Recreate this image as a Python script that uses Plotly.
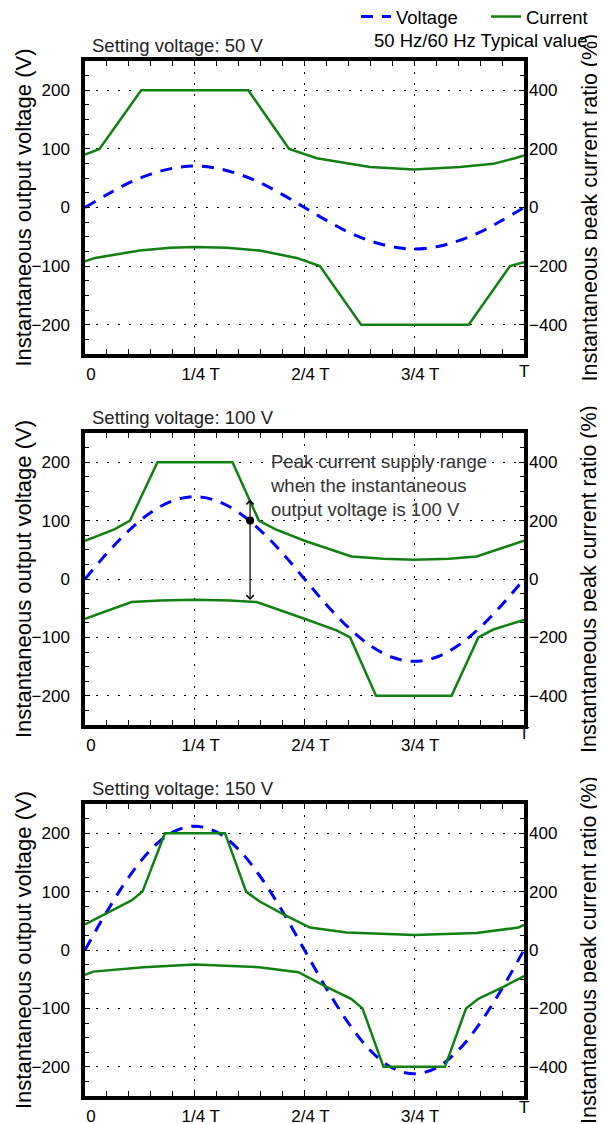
import plotly.graph_objects as go

# time axis, fraction of period T
t_volt = [i / 20 for i in range(21)]

# instantaneous output voltage (V)
volt_50 = [0, 22, 42, 57, 67, 71, 67, 57, 42, 22, 0, -22, -42, -57, -67, -71, -67, -57, -42, -22, 0]
volt_100 = [0, 44, 83, 114, 134, 141, 134, 114, 83, 44, 0, -44, -83, -114, -134, -141, -134, -114, -83, -44, 0]
volt_150 = [0, 66, 125, 172, 202, 212, 202, 172, 125, 66, 0, -66, -125, -172, -202, -212, -202, -172, -125, -66, 0]

# peak current ratio (%) - upper and lower envelopes
t_up_50 = [0, 0.033, 0.128, 0.372, 0.465, 0.528, 0.649, 0.75, 0.854, 0.93, 0.979, 1.0]
cur_up_50 = [181, 200, 400, 400, 200, 168, 138, 130, 138, 149, 168, 178]
t_lo_50 = [0, 0.023, 0.125, 0.194, 0.25, 0.323, 0.398, 0.482, 0.535, 0.629, 0.874, 0.968, 1.0]
cur_lo_50 = [-184, -172, -147, -137, -135, -137, -147, -172, -200, -400, -400, -200, -187]

t_up_100 = [0, 0.068, 0.1025, 0.165, 0.336, 0.396, 0.433, 0.5, 0.607, 0.679, 0.75, 0.829, 0.892, 1.0]
cur_up_100 = [131, 171, 200, 400, 400, 200, 171, 131, 77, 69, 66, 69, 77, 131]
t_lo_100 = [0, 0.106, 0.171, 0.25, 0.33, 0.391, 0.5, 0.573, 0.604, 0.663, 0.835, 0.896, 0.93, 1.0]
cur_lo_100 = [-136, -79, -74, -71, -74, -79, -136, -176, -200, -400, -400, -200, -173, -140]

t_up_150 = [0, 0.106, 0.131, 0.182, 0.319, 0.367, 0.397, 0.452, 0.5125, 0.596, 0.75, 0.892, 0.987, 1.0]
cur_up_150 = [88, 170, 200, 400, 400, 200, 167, 122, 77, 60, 51, 58, 77, 86]
t_lo_150 = [0, 0.019, 0.133, 0.25, 0.397, 0.486, 0.55, 0.607, 0.632, 0.68, 0.82, 0.868, 0.896, 0.953, 1.0]
cur_lo_150 = [-85, -74, -59, -50, -59, -76, -126, -168, -200, -400, -400, -200, -167, -126, -89]

# 100 V marker and supply range arrow
mark_t = [0.376]
mark_v = [100]
arrow_top_v = 136
arrow_bot_v = -36

x_ticks = [0, 0.25, 0.5, 0.75]
x_labels = ["0", "1/4 T", "2/4 T", "3/4 T"]
titles = ["Setting voltage: 50 V", "Setting voltage: 100 V", "Setting voltage: 150 V"]

W, H = 605, 1124
OFF = 8  # page body margin of the html
FONT = "Liberation Sans, Arial, sans-serif"
BLUE = "#0000ff"
GREEN = "#108010"

# panel vertical extents in screen pixels (top, bottom)
panels = [(61, 354), (433, 725), (804, 1096)]
t_label_y = [371, 733, 1107]
L, R = 85 - OFF, W - 524 + OFF


def py(px):
    return 1 - (px - OFF) / H


def px_x(px):
    return (px - 85) / (W - L - R)


fig = go.Figure()

volts = [volt_50, volt_100, volt_150]
ups = [(t_up_50, cur_up_50), (t_up_100, cur_up_100), (t_up_150, cur_up_150)]
los = [(t_lo_50, cur_lo_50), (t_lo_100, cur_lo_100), (t_lo_150, cur_lo_150)]

for i in range(3):
    xa = "x" if i == 0 else f"x{i + 1}"
    yl = "y" if i == 0 else f"y{2 * i + 1}"
    yr = f"y{2 * i + 2}"
    fig.add_trace(go.Scatter(x=ups[i][0], y=ups[i][1], xaxis=xa, yaxis=yr, mode="lines",
                             line=dict(color=GREEN, width=2.5), name="Current",
                             legendgroup="cur", showlegend=(i == 0)))
    fig.add_trace(go.Scatter(x=los[i][0], y=los[i][1], xaxis=xa, yaxis=yr, mode="lines",
                             line=dict(color=GREEN, width=2.5), name="Current",
                             legendgroup="cur", showlegend=False))
    fig.add_trace(go.Scatter(x=t_volt, y=volts[i], xaxis=xa, yaxis=yl, mode="lines",
                             line=dict(color=BLUE, width=3, dash="12px,9px", shape="spline"),
                             name="Voltage", legendgroup="volt", showlegend=(i == 0)))

fig.add_trace(go.Scatter(x=mark_t, y=mark_v, xaxis="x2", yaxis="y3", mode="markers",
                         marker=dict(color="black", size=8), showlegend=False))

layout = dict(
    width=W, height=H,
    margin=dict(l=L, r=R, t=0, b=0, autoexpand=False),
    paper_bgcolor="white", plot_bgcolor="white",
    font=dict(family=FONT, size=17, color="black"),
    legend=dict(orientation="h", x=px_x(616), xanchor="right", y=py(17), yanchor="middle",
                font=dict(size=18.5), traceorder="reversed", itemwidth=30,
                entrywidth=85, bgcolor="rgba(0,0,0,0)"),
    showlegend=True,
)

annotations = []
for i, (top, bot) in enumerate(panels):
    xk = "xaxis" if i == 0 else f"xaxis{i + 1}"
    xa = "x" if i == 0 else f"x{i + 1}"
    ylk = "yaxis" if i == 0 else f"yaxis{2 * i + 1}"
    yl = "y" if i == 0 else f"y{2 * i + 1}"
    yrk = f"yaxis{2 * i + 2}"
    dom = [py(bot), py(top)]
    layout[xk] = dict(
        domain=[0, 1], anchor=yl, range=[0, 1],
        tickvals=x_ticks, ticktext=x_labels, ticks="inside", ticklen=5, tickcolor="black",
        ticklabelshift=6, ticklabelstandoff=2,
        showline=True, linewidth=3.5, linecolor="black", mirror="allticks",
        showgrid=True, gridcolor="black", gridwidth=1.3, griddash="2px,9px",
        zeroline=False,
        minor=dict(dtick=0.05, ticks="inside", ticklen=4, tickcolor="black", showgrid=False),
    )
    layout[ylk] = dict(
        domain=dom, anchor=xa, range=[-250, 250],
        tickvals=[-200, -100, 0, 100, 200], ticks="inside", ticklen=5, tickcolor="black",
        ticklabelstandoff=8,
        showline=True, linewidth=3.5, linecolor="black", mirror="allticks",
        showgrid=True, gridcolor="black", gridwidth=1.3, griddash="2px,9px",
        zeroline=False,
        minor=dict(dtick=25, ticks="inside", ticklen=4, tickcolor="black", showgrid=False),
    )
    layout[yrk] = dict(
        overlaying=yl, side="right", anchor=xa, range=[-500, 500],
        tickvals=[-400, -200, 0, 200, 400], ticks="", showline=False,
        showgrid=False, zeroline=False, ticklabelstandoff=4,
    )
    mid = (top + bot) / 2
    annotations.append(dict(text=titles[i], xref="paper", yref="paper", x=px_x(90), y=py(top - 16),
                            xanchor="left", yanchor="middle", showarrow=False,
                            font=dict(size=18.5, color="#222222")))
    annotations.append(dict(text="Instantaneous output voltage (V)", xref="paper", yref="paper",
                            x=px_x(23), y=py(mid), textangle=-90, xanchor="center", yanchor="middle",
                            showarrow=False, font=dict(size=22)))
    annotations.append(dict(text="Instantaneous peak current ratio (%)", xref="paper", yref="paper",
                            x=px_x(589), y=py(mid), textangle=-90, xanchor="center", yanchor="middle",
                            showarrow=False, font=dict(size=21.5)))
    annotations.append(dict(text="T", xref=xa, yref="paper", x=1, y=py(t_label_y[i]),
                            xanchor="center", yanchor="middle", showarrow=False, font=dict(size=17)))

annotations.append(dict(text="50 Hz/60 Hz Typical value", xref="paper", yref="paper",
                        x=px_x(590), y=py(40), xanchor="right", yanchor="middle", showarrow=False,
                        font=dict(size=18.5)))
annotations.append(dict(text="Peak current supply range<br>when the instantaneous<br>output voltage is 100 V",
                        xref="paper", yref="paper", x=px_x(268), y=py(449), xanchor="left", yanchor="top",
                        align="left", showarrow=False, font=dict(size=18.5, color="#333333")))
for tip in (arrow_top_v, arrow_bot_v):
    annotations.append(dict(x=mark_t[0], y=tip, xref="x2", yref="y3", ax=mark_t[0], ay=mark_v[0],
                            axref="x2", ayref="y3", text="", showarrow=True, arrowhead=4,
                            arrowsize=1.2, arrowwidth=1.2, arrowcolor="black"))

layout["annotations"] = annotations
fig.update_layout(**layout)

fig.write_html("out.html")
